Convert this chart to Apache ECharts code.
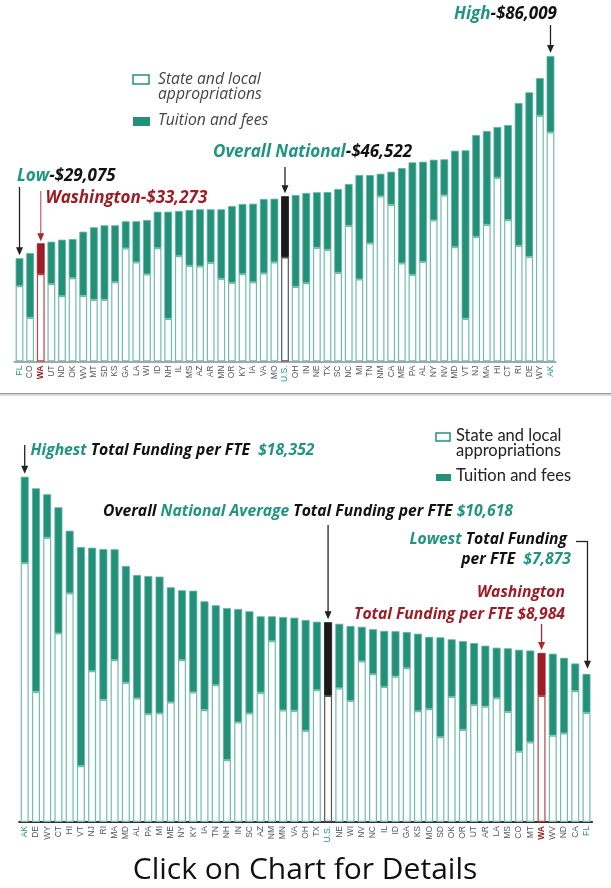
<!DOCTYPE html>
<html>
<head>
<meta charset="utf-8">
<script src="https://cdn.jsdelivr.net/npm/echarts@6/dist/echarts.min.js"></script>
<style>
html,body{margin:0;padding:0;background:#fff;}
#c{width:611px;height:888px;}
</style>
</head>
<body>
<div id="c"></div>
<script>
// ---------- DATA ----------
const topCats = ['FL','CO','WA','UT','ND','OK','WV','MT','SD','KS','GA','LA','WI','ID','NH','IL','MS','AZ','AR','MN','OR','KY','IA','VA','MO','U.S.','OH','IN','NE','TX','SC','NC','MI','TN','NM','CA','ME','PA','AL','NY','NV','MD','VT','NJ','MA','HI','CT','RI','DE','WY','AK'];
const topState = [21250,12330,24630,21820,18440,23500,18520,17400,17400,22380,31870,27930,24550,31950,12050,29700,26970,26800,27820,23310,22180,24630,22380,24830,27930,29330,21060,22100,32040,31470,25000,38230,23140,33270,46500,44140,27640,24430,28090,39750,46790,32230,12050,35130,38510,51740,39830,32600,29500,69190,64520];
const topTuition = [7825,18210,8643,11910,15850,10980,18020,20380,20940,15960,7600,11540,15290,10220,30120,12670,15680,16050,15030,19540,21590,19710,22040,20920,17900,17192,25810,25340,15600,16240,23560,11740,29360,19230,6360,9290,26830,31640,28150,17060,10130,27110,47400,28630,26380,14270,26740,40170,46280,10610,21489];

const botCats = ['AK','DE','WY','CT','HI','VT','NJ','RI','MA','MD','AL','PA','MI','ME','NY','KY','IA','TN','NH','IN','SC','AZ','NM','MN','VA','OH','TX','U.S.','NE','WI','NV','NC','IL','ID','GA','KS','MO','SD','OK','OR','UT','AR','LA','MS','CO','MT','WA','WV','ND','CA','FL'];
const botState = [13766,6925,15111,10029,12155,2976,8026,6500,8610,7404,6575,5740,5777,6362,8610,6894,5953,7282,3295,5299,5777,6872,9620,5937,5916,4853,7016,6713,7112,6442,8541,7866,7186,7733,8185,5900,6006,4518,6654,4906,6229,6139,6591,5862,3747,4241,6713,4597,4714,6963,5810];
const botTuition = [4586,10811,2307,6697,3327,11640,6553,8010,5884,6203,6553,7335,7266,6112,3705,5400,5777,4236,8079,6022,5421,4061,1313,4959,4943,5884,3630,3905,3423,3976,1834,2381,2971,2408,1913,4108,3837,5299,3056,4709,3279,3232,2673,3370,5405,4874,2271,4348,4013,1462,2063];

// ---------- STYLE ----------
const TEAL = '#23917a';
const TEAL_TXT = '#1f9580';
const RED = '#9d1d27';
const BLACK = '#1a1a1a';
const FONT = '"Open Sans", Lato, sans-serif';
const LFONT = 'Lato, "Open Sans", sans-serif';

function stateItems(cats, vals) {
  return vals.map((v, i) => {
    const c = cats[i];
    let bc = '#6fbdab';
    if (c === 'WA') bc = '#b8424c';
    if (c === 'U.S.') bc = '#555555';
    return { value: v, itemStyle: { color: '#ffffff', borderColor: bc, borderWidth: 1.2 } };
  });
}
function tuitionItems(cats, vals) {
  return vals.map((v, i) => {
    const c = cats[i];
    let col = TEAL, bc = '#62b5a2';
    if (c === 'WA') { col = RED; bc = RED; }
    if (c === 'U.S.') { col = BLACK; bc = BLACK; }
    return { value: v, itemStyle: { color: col, borderColor: bc, borderWidth: 0.8 } };
  });
}
function labelFmt(v) {
  if (v === 'WA') return '{r|' + v + '}';
  if (v === 'FL' || v === 'AK' || v === 'U.S.') return '{t|' + v + '}';
  return '{n|' + v + '}';
}
const labelRich = {
  n: { color: '#555', fontSize: 8.5, fontFamily: 'Liberation Sans, Arial, sans-serif' },
  t: { color: TEAL_TXT, fontSize: 8.5, fontFamily: 'Liberation Sans, Arial, sans-serif' },
  r: { color: RED, fontSize: 8.5, fontWeight: 'bold', fontFamily: 'Liberation Sans, Arial, sans-serif' }
};

function xAxisFor(idx, cats, lineColor, lineWidth) {
  return {
    type: 'category', gridIndex: idx, data: cats,
    axisTick: { show: false },
    axisLine: { lineStyle: { color: lineColor, width: lineWidth } },
    axisLabel: { interval: 0, rotate: 90, margin: 4, formatter: labelFmt, rich: labelRich }
  };
}

const option = {
  animation: false,
  backgroundColor: '#ffffff',
  grid: [
    { left: 14.2, right: 55.2, top: 41.8, bottom: 526.5 },
    { left: 19.1, right: 18.9, top: 445.7, bottom: 66 }
  ],
  xAxis: [
    xAxisFor(0, topCats, '#8a8a8a', 1.5),
    xAxisFor(1, botCats, '#333333', 2)
  ],
  yAxis: [
    { type: 'value', gridIndex: 0, min: 0, max: 90000, show: false, splitLine: { show: false } },
    { type: 'value', gridIndex: 1, min: 0, max: 20000, show: false, splitLine: { show: false } }
  ],
  series: [
    { type: 'bar', name: 'State and local appropriations', xAxisIndex: 0, yAxisIndex: 0, stack: 'a', barWidth: 7.8, data: stateItems(topCats, topState) },
    { type: 'bar', name: 'Tuition and fees', xAxisIndex: 0, yAxisIndex: 0, stack: 'a', barWidth: 7.8, data: tuitionItems(topCats, topTuition) },
    { type: 'bar', name: 'State and local appropriations', xAxisIndex: 1, yAxisIndex: 1, stack: 'b', barWidth: 8, data: stateItems(botCats, botState) },
    { type: 'bar', name: 'Tuition and fees', xAxisIndex: 1, yAxisIndex: 1, stack: 'b', barWidth: 8, data: tuitionItems(botCats, botTuition) }
  ]
};

const chart = echarts.init(document.getElementById('c'), null, { renderer: 'canvas' });
chart.setOption(option);

// ---------- ANNOTATIONS ----------
function total(cats, s, t, c) { const i = cats.indexOf(c); return s[i] + t[i]; }
function pt(g, cats, s, t, c) {
  return chart.convertToPixel({ xAxisIndex: g, yAxisIndex: g }, [c, total(cats, s, t, c)]);
}
function arrow(x, y1, yTip, color, headColor) {
  return {
    type: 'group', children: [
      { type: 'line', shape: { x1: x, y1: y1, x2: x, y2: yTip - 6 }, style: { stroke: color, lineWidth: 1.3 } },
      { type: 'polygon', shape: { points: [[x - 3.5, yTip - 8], [x + 3.5, yTip - 8], [x, yTip]] }, style: { fill: headColor || color } }
    ]
  };
}
function rtext(x, y, text, rich, extra) {
  return {
    type: 'text', x: x, y: y,
    style: Object.assign({ text: text, rich: rich, verticalAlign: 'top', align: 'left' }, extra || {})
  };
}
function mkRich(size) {
  const bi = { fontFamily: FONT, fontWeight: 'bold', fontStyle: 'italic', fontSize: size };
  return {
    g: Object.assign({ fill: TEAL_TXT }, bi),
    k: Object.assign({ fill: '#111' }, bi),
    r: Object.assign({ fill: RED }, bi)
  };
}
const richTop = mkRich(17);
const richBot = mkRich(15.7);

const pAK = pt(0, topCats, topState, topTuition, 'AK');
const pUS = pt(0, topCats, topState, topTuition, 'U.S.');
const pFL = pt(0, topCats, topState, topTuition, 'FL');
const pWA = pt(0, topCats, topState, topTuition, 'WA');
const qAK = pt(1, botCats, botState, botTuition, 'AK');
const qUS = pt(1, botCats, botState, botTuition, 'U.S.');
const qFL = pt(1, botCats, botState, botTuition, 'FL');
const qWA = pt(1, botCats, botState, botTuition, 'WA');

const legTxtTop = { fontFamily: FONT, fontStyle: 'italic', fontSize: 15.7, fill: '#444' };
const legTxtBot = { fontFamily: LFONT, fontSize: 16.5, fill: '#222' };

const graphics = [
  // separator
  { type: 'rect', shape: { x: 0, y: 393, width: 611, height: 1.5 }, style: { fill: '#9a9a9a' } },
  { type: 'rect', shape: { x: 0, y: 394.5, width: 611, height: 1.5 }, style: { fill: '#dddddd' } },
  // top annotations
  rtext(454, 5.5, '{g|High}{k|-$86,009}', richTop),
  arrow(pAK[0], 25, pAK[1] - 3, '#222'),
  rtext(213, 143.5, '{g|Overall National}{k|-$46,522}', richTop),
  arrow(pUS[0], 167, pUS[1] - 3, '#222'),
  rtext(17, 167.5, '{g|Low}{k|-$29,075}', richTop),
  arrow(pFL[0], 187, pFL[1] - 3, '#222'),
  rtext(45.5, 190, '{r|Washington-$33,273}', richTop),
  arrow(pWA[0], 191, pWA[1] - 2, '#c96a72', '#a52a33'),
  // top legend
  { type: 'rect', shape: { x: 133, y: 75, width: 16, height: 9 }, style: { fill: '#fff', stroke: TEAL, lineWidth: 1.5 } },
  { type: 'text', x: 158, y: 72, style: Object.assign({ text: 'State and local\nappropriations', lineHeight: 15, verticalAlign: 'top' }, legTxtTop) },
  { type: 'rect', shape: { x: 133, y: 117, width: 17, height: 9 }, style: { fill: TEAL } },
  { type: 'text', x: 158, y: 113, style: Object.assign({ text: 'Tuition and fees', verticalAlign: 'top' }, legTxtTop) },
  // bottom annotations
  rtext(30.5, 442.5, '{g|Highest }{k|Total Funding per FTE  }{g|$18,352}', richBot),
  arrow(qAK[0], 445, qAK[1] - 3, '#222'),
  rtext(103, 504, '{k|Overall }{g|National Average }{k|Total Funding per FTE }{g|$10,618}', richBot),
  arrow(qUS[0], 525, qUS[1] - 3, '#222'),
  rtext(567, 531.5, '{g|Lowest }{k|Total Funding}', richBot, { align: 'right' }),
  rtext(571, 552, '{k|per FTE  }{g|$7,873}', richBot, { align: 'right' }),
  { type: 'line', shape: { x1: 576, y1: 541.5, x2: qFL[0] + 1, y2: 541.5 }, style: { stroke: '#222', lineWidth: 1.3 } },
  arrow(qFL[0] + 1, 541, qFL[1] - 5, '#222'),
  rtext(565, 585, '{r|Washington}', richBot, { align: 'right' }),
  rtext(565, 607, '{r|Total Funding per FTE $8,984}', richBot, { align: 'right' }),
  arrow(qWA[0], 624, qWA[1] - 3, '#a52a33'),
  // bottom legend
  { type: 'rect', shape: { x: 436, y: 433, width: 14, height: 8 }, style: { fill: '#fff', stroke: TEAL, lineWidth: 1.5 } },
  { type: 'text', x: 456, y: 428, style: Object.assign({ text: 'State and local\nappropriations', lineHeight: 15, verticalAlign: 'top' }, legTxtBot) },
  { type: 'rect', shape: { x: 436, y: 474, width: 15, height: 7 }, style: { fill: TEAL } },
  { type: 'text', x: 456, y: 467.5, style: Object.assign({ text: 'Tuition and fees', verticalAlign: 'top' }, legTxtBot) },
  // footer
  { type: 'text', x: 305, y: 855, style: { text: 'Click on Chart for Details', align: 'center', verticalAlign: 'top', fontFamily: FONT, fontSize: 30, fill: '#111' } }
];
chart.setOption({ graphic: graphics });
</script>
</body>
</html>
